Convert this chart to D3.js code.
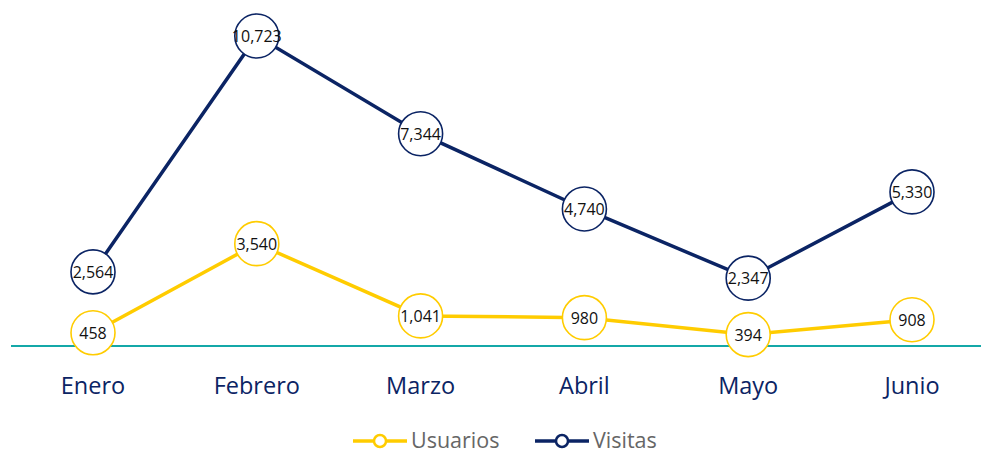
<!DOCTYPE html>
<html>
<head>
<meta charset="utf-8">
<script src="https://cdn.jsdelivr.net/npm/d3@7"></script>
<style>
  html, body { margin: 0; padding: 0; background: #fff; }
  svg { display: block; font-family: "Open Sans", "Noto Sans", sans-serif; }
</style>
</head>
<body>
<div id="chart"></div>
<script>
const meses = ["Enero", "Febrero", "Marzo", "Abril", "Mayo", "Junio"];
const usuarios = [458, 3540, 1041, 980, 394, 908];
const visitas = [2564, 10723, 7344, 4740, 2347, 5330];

const series = [
  { name: "Usuarios", values: usuarios, color: "#ffcc00" },
  { name: "Visitas", values: visitas, color: "#0b2464" }
];

const W = 981, H = 453;

const svg = d3.select("#chart")
  .append("svg")
  .attr("width", W)
  .attr("height", H);

const x = d3.scalePoint()
  .domain(meses)
  .range([93, 912]);

const y = d3.scaleLinear()
  .domain([0, d3.max(visitas)])
  .range([346, 36]);

// linea base
svg.append("line")
  .attr("x1", 11)
  .attr("x2", W)
  .attr("y1", y(0))
  .attr("y2", y(0))
  .attr("stroke", "#14a8a8")
  .attr("stroke-width", 2);

// etiquetas del eje
svg.append("g")
  .selectAll("text")
  .data(meses)
  .enter()
  .append("text")
  .attr("x", d => x(d))
  .attr("y", 394)
  .attr("text-anchor", "middle")
  .attr("fill", "#0b2464")
  .attr("font-size", "23.5px")
  .text(d => d);

const line = d3.line()
  .x((d, i) => x(meses[i]))
  .y(d => y(d));

const fmt = d3.format(",");

series.forEach(s => {
  const g = svg.append("g");

  g.append("path")
    .datum(s.values)
    .attr("d", line)
    .attr("fill", "none")
    .attr("stroke", s.color)
    .attr("stroke-width", 3.5);

  g.selectAll("circle")
    .data(s.values)
    .enter()
    .append("circle")
    .attr("cx", (d, i) => x(meses[i]))
    .attr("cy", d => y(d))
    .attr("r", 22)
    .attr("fill", "#fff")
    .attr("stroke", s.color)
    .attr("stroke-width", 1.6);

  g.selectAll("text")
    .data(s.values)
    .enter()
    .append("text")
    .attr("x", (d, i) => x(meses[i]))
    .attr("y", d => y(d) + 6)
    .attr("text-anchor", "middle")
    .attr("fill", "#111")
    .attr("font-size", "16px")
    .text(d => fmt(d));
});

// leyenda
const legendX = [353, 535];
const legend = svg.append("g")
  .selectAll("g")
  .data(series)
  .enter()
  .append("g")
  .attr("transform", (d, i) => `translate(${legendX[i]},441)`);

legend.append("line")
  .attr("x1", 0)
  .attr("x2", 54)
  .attr("stroke", d => d.color)
  .attr("stroke-width", 3.5);

legend.append("circle")
  .attr("cx", 27)
  .attr("r", 6)
  .attr("fill", "#fff")
  .attr("stroke", d => d.color)
  .attr("stroke-width", 2.5);

legend.append("text")
  .attr("x", 58)
  .attr("y", 7)
  .attr("fill", "#666")
  .attr("font-size", "21.5px")
  .text(d => d.name);
</script>
</body>
</html>
